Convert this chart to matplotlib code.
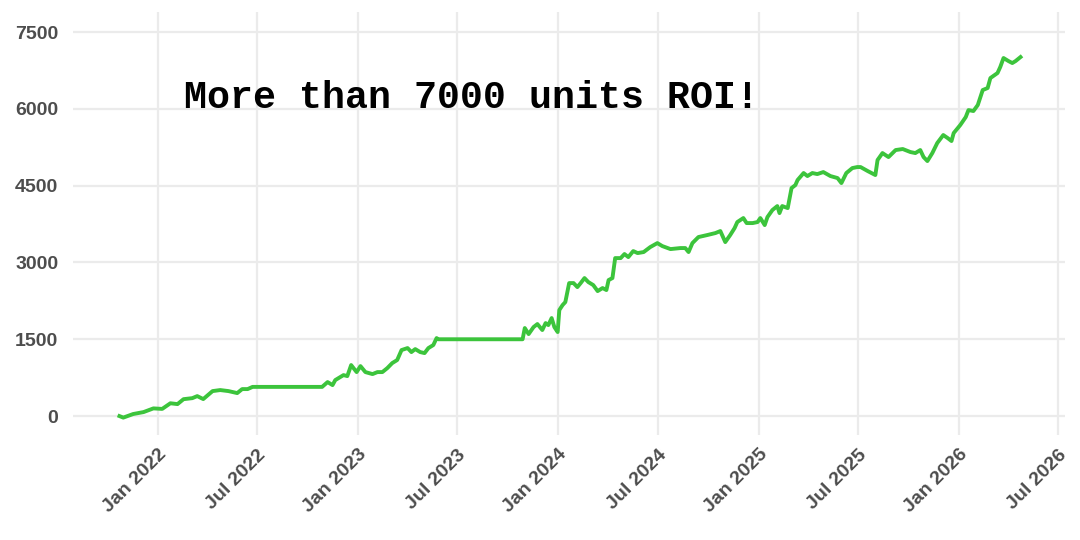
import matplotlib
matplotlib.use("Agg")
import matplotlib.pyplot as plt
import matplotlib.dates as mdates
import numpy as np
import pandas as pd

# cumulative ROI
dates = [
    "2021-10-22", "2021-10-29", "2021-11-16", "2021-12-05", "2021-12-23",
    "2022-01-08", "2022-01-23", "2022-02-05", "2022-02-16", "2022-03-04",
    "2022-03-13", "2022-03-24", "2022-04-10", "2022-04-24", "2022-05-09",
    "2022-05-25", "2022-06-03", "2022-06-13", "2022-06-22", "2022-10-27",
    "2022-11-06", "2022-11-15", "2022-11-20", "2022-12-05", "2022-12-12",
    "2022-12-19", "2022-12-29", "2023-01-05", "2023-01-14", "2023-01-27",
    "2023-02-05", "2023-02-14", "2023-02-23", "2023-03-04", "2023-03-13",
    "2023-03-21", "2023-04-01", "2023-04-08", "2023-04-15", "2023-04-24",
    "2023-05-02", "2023-05-09", "2023-05-18", "2023-05-24", "2023-05-27",
    "2023-10-28", "2023-11-01", "2023-11-08", "2023-11-17", "2023-11-24",
    "2023-12-03", "2023-12-09", "2023-12-14", "2023-12-20", "2023-12-25",
    "2023-12-31", "2024-01-03", "2024-01-09", "2024-01-14", "2024-01-21",
    "2024-01-29", "2024-02-05", "2024-02-11", "2024-02-18", "2024-02-25",
    "2024-03-05", "2024-03-13", "2024-03-22", "2024-03-29", "2024-04-02",
    "2024-04-09", "2024-04-14", "2024-04-24", "2024-05-01", "2024-05-08",
    "2024-05-17", "2024-05-25", "2024-06-05", "2024-06-17", "2024-06-30",
    "2024-07-09", "2024-07-24", "2024-08-11", "2024-08-20", "2024-08-26",
    "2024-09-02", "2024-09-13", "2024-09-29", "2024-10-14", "2024-10-23",
    "2024-11-01", "2024-11-10", "2024-11-18", "2024-11-23", "2024-12-04",
    "2024-12-10", "2024-12-21", "2024-12-30", "2025-01-04", "2025-01-12",
    "2025-01-17", "2025-01-26", "2025-02-04", "2025-02-08", "2025-02-13",
    "2025-02-23", "2025-03-02", "2025-03-09", "2025-03-13", "2025-03-24",
    "2025-03-31", "2025-04-09", "2025-04-18", "2025-04-29", "2025-05-12",
    "2025-05-25", "2025-06-01", "2025-06-10", "2025-06-21", "2025-06-30",
    "2025-07-06", "2025-07-19", "2025-08-02", "2025-08-06", "2025-08-15",
    "2025-08-26", "2025-09-08", "2025-09-21", "2025-10-05", "2025-10-14",
    "2025-10-23", "2025-10-29", "2025-11-05", "2025-11-14", "2025-11-23",
    "2025-12-04", "2025-12-12", "2025-12-19", "2025-12-23", "2026-01-04",
    "2026-01-14", "2026-01-19", "2026-01-28", "2026-02-05", "2026-02-14",
    "2026-02-23", "2026-02-28", "2026-03-13", "2026-03-18", "2026-03-24",
    "2026-04-02", "2026-04-09", "2026-04-15", "2026-04-24",
]
roi = [
    0, -30, 40, 78, 150,
    140, 250, 234, 330, 350,
    390, 332, 488, 508, 488,
    449, 527, 527, 570, 570,
    664, 605, 703, 800, 781,
    996, 859, 976, 859, 820,
    859, 859, 937, 1035, 1094,
    1289, 1328, 1250, 1308, 1250,
    1230, 1328, 1387, 1523, 1500,
    1500, 1719, 1601, 1738, 1797,
    1680, 1816, 1777, 1914, 1738,
    1641, 2070, 2168, 2226, 2597,
    2597, 2519, 2597, 2695, 2617,
    2558, 2441, 2500, 2461, 2656,
    2695, 3085, 3085, 3164, 3105,
    3222, 3183, 3203, 3300, 3378,
    3320, 3261, 3281, 3281, 3203,
    3378, 3496, 3535, 3574, 3613,
    3398, 3535, 3671, 3789, 3867,
    3769, 3769, 3789, 3867, 3730,
    3886, 4023, 4101, 3964, 4101,
    4062, 4453, 4511, 4609, 4746,
    4687, 4746, 4726, 4765, 4687,
    4648, 4550, 4746, 4843, 4863,
    4863, 4785, 4707, 5000, 5136,
    5058, 5195, 5215, 5156, 5136,
    5195, 5058, 4980, 5136, 5332,
    5488, 5429, 5371, 5527, 5683,
    5839, 5976, 5957, 6074, 6367,
    6406, 6601, 6699, 6816, 6992,
    6933, 6894, 6933, 7011,
]
yticks = [0, 1500, 3000, 4500, 6000, 7500]
note = "More than 7000 units ROI!"

x = pd.to_datetime(dates)

fig = plt.figure(figsize=(10.8, 5.4), dpi=100)
ax = fig.add_axes([0.068, 0.1944, 0.918, 0.7833])

ax.plot(x, roi, color="#3cc43c", lw=2.8, solid_joinstyle="round")

ax.set_xlim(pd.Timestamp("2021-07-30"), pd.Timestamp("2026-07-14"))
ax.set_ylim(-370, 7890)
ax.set_yticks(yticks)
ax.xaxis.set_major_locator(mdates.MonthLocator(bymonth=[1, 7]))
ax.xaxis.set_major_formatter(mdates.DateFormatter("%b %Y"))

ax.grid(True, color="#ebebeb", lw=1.6)
ax.set_axisbelow(True)
for s in ax.spines.values():
    s.set_visible(False)
ax.tick_params(length=0, labelcolor="#4d4d4d", labelsize=14)
ax.tick_params(axis="y", pad=11)
ax.tick_params(axis="x", pad=8)
for lab in ax.get_yticklabels() + ax.get_xticklabels():
    lab.set_fontweight("bold")
    lab.set_fontfamily("Liberation Sans")
plt.setp(ax.get_xticklabels(), rotation=45, ha="right", rotation_mode="anchor")

ax.text(pd.Timestamp("2022-02-16"), 6211, note, family="Liberation Mono",
        fontweight="bold", fontsize=27.5, va="center", ha="left", color="black")

fig.savefig("out.png", dpi=100)
